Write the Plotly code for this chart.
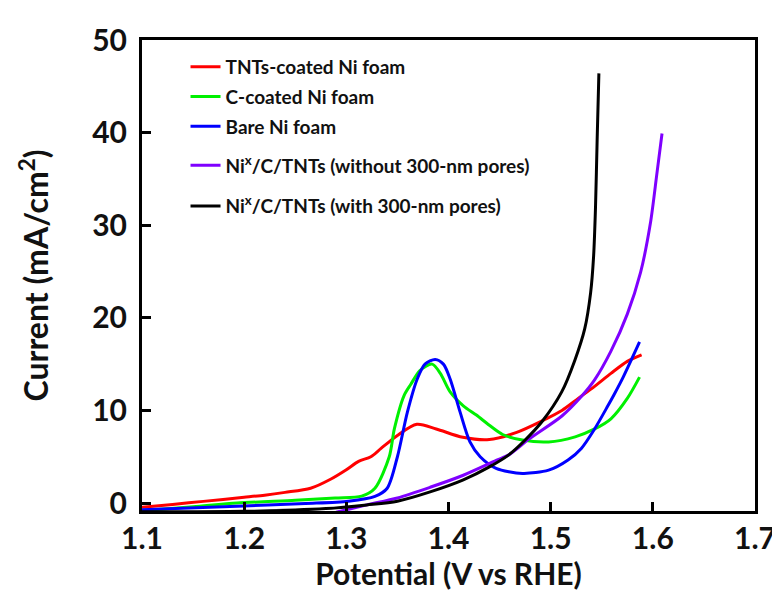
import plotly.graph_objects as go

# ---- data ----
red_x = [1.100, 1.130, 1.160, 1.200, 1.220, 1.240, 1.265, 1.285, 1.300, 1.312, 1.324, 1.334, 1.350, 1.369, 1.388, 1.414, 1.440, 1.466, 1.492, 1.511, 1.527, 1.543, 1.559, 1.575, 1.589]
red_y = [-0.45, -0.15, 0.18, 0.62, 0.85, 1.15, 1.6, 2.6, 3.6, 4.5, 5.0, 5.9, 7.3, 8.5, 8.0, 7.1, 6.85, 7.6, 8.9, 10.0, 11.3, 12.6, 14.0, 15.3, 16.0]

green_x = [1.100, 1.150, 1.193, 1.250, 1.289, 1.315, 1.328, 1.342, 1.347, 1.3565, 1.363, 1.372, 1.384, 1.392, 1.4016, 1.4145, 1.4273, 1.440, 1.453, 1.4723, 1.498, 1.524, 1.543, 1.559, 1.575, 1.587]
green_y = [-0.82, -0.4, 0.0, 0.3, 0.55, 0.75, 1.6, 5.0, 8.0, 11.6, 12.8, 14.3, 15.0, 14.0, 12.0, 10.5, 9.5, 8.4, 7.4, 6.8, 6.6, 7.15, 8.0, 9.1, 11.3, 13.6]

blue_x = [1.100, 1.193, 1.260, 1.302, 1.328, 1.340, 1.350, 1.3597, 1.3694, 1.377, 1.387, 1.395, 1.4016, 1.4113, 1.421, 1.431, 1.4466, 1.4723, 1.498, 1.517, 1.530, 1.543, 1.556, 1.562, 1.571, 1.587]
blue_y = [-0.72, -0.35, -0.05, 0.2, 0.72, 1.6, 5.0, 9.8, 13.4, 15.0, 15.5, 15.0, 13.4, 9.84, 6.6, 5.0, 3.75, 3.2, 3.55, 4.65, 5.9, 8.0, 10.5, 11.7, 13.6, 17.4]

purple_x = [1.290, 1.320, 1.350, 1.382, 1.4145, 1.4466, 1.459, 1.4787, 1.511, 1.530, 1.543, 1.559, 1.575, 1.588, 1.5976, 1.604, 1.609]
purple_y = [-1.0, -0.2, 0.55, 1.7, 3.0, 4.6, 5.2, 6.9, 9.4, 11.5, 13.3, 16.4, 20.4, 24.9, 30.2, 35.6, 39.9]

black_x = [1.100, 1.200, 1.280, 1.320, 1.350, 1.382, 1.4145, 1.440, 1.459, 1.475, 1.4916, 1.5108, 1.5236, 1.5333, 1.5391, 1.542, 1.5439, 1.5455, 1.5472]
black_y = [-0.95, -0.9, -0.6, -0.2, 0.2, 1.2, 2.5, 3.9, 5.2, 6.8, 8.8, 12.0, 15.4, 18.8, 22.7, 26.6, 32.0, 39.2, 46.4]

names = ["TNTs-coated Ni foam", "C-coated Ni foam", "Bare Ni foam",
         "Ni<sup>x</sup>/C/TNTs (without 300-nm pores)",
         "Ni<sup>x</sup>/C/TNTs (with 300-nm pores)"]
colors = ["#FF0000", "#00F000", "#0000FF", "#7F00FF", "#000000"]
legend_ids = ["legend", "legend", "legend", "legend2", "legend2"]
xs = [red_x, green_x, blue_x, purple_x, black_x]
ys = [red_y, green_y, blue_y, purple_y, black_y]

x_ticks = [1.1, 1.2, 1.3, 1.4, 1.5, 1.6, 1.7]
y_ticks = [0, 10, 20, 30, 40, 50]

FONT = "Lato"
TXT = "#111111"

fig = go.Figure()
for i, (x, y, n, c, lg) in enumerate(zip(xs, ys, names, colors, legend_ids)):
    fig.add_trace(go.Scatter(
        x=x, y=y, name=n, mode="lines",
        line=dict(color=c, width=3, shape="spline", smoothing=0.8),
        legendgroup=str(i), legend=lg,
    ))

legend_font = dict(family=FONT, size=19, color=TXT, weight="bold")

fig.update_layout(
    width=780, height=590,
    margin=dict(l=134, r=24, t=29, b=87),
    paper_bgcolor="white", plot_bgcolor="white",
    font=dict(family=FONT, color="black"),
    showlegend=True,
    legend=dict(
        x=0.071, y=0.983, xanchor="left", yanchor="top",
        bgcolor="rgba(0,0,0,0)", borderwidth=0,
        font=legend_font, tracegroupgap=2, itemwidth=30,
    ),
    legend2=dict(
        x=0.071, y=0.774, xanchor="left", yanchor="top",
        bgcolor="rgba(0,0,0,0)", borderwidth=0,
        font=legend_font, tracegroupgap=13, itemwidth=30,
    ),
    xaxis=dict(
        range=[1.1, 1.7], tickvals=x_ticks, ticktext=[f"{v:.1f}" for v in x_ticks],
        showgrid=False, zeroline=False,
        showline=True, linewidth=3, linecolor="black", mirror=True,
        ticks="inside", ticklen=9, tickwidth=2.5, tickcolor="black",
        tickfont=dict(family=FONT, size=30, color=TXT, weight="bold"),
        ticklabelstandoff=-1,
        title=dict(text="Potential (V vs RHE)",
                   font=dict(family=FONT, size=30, color=TXT, weight="bold"),
                   standoff=1),
    ),
    yaxis=dict(
        range=[-0.86, 50], tickvals=y_ticks,
        showgrid=False, zeroline=False,
        showline=True, linewidth=3, linecolor="black", mirror=True,
        ticks="inside", ticklen=9, tickwidth=2.5, tickcolor="black",
        tickfont=dict(family=FONT, size=30, color=TXT, weight="bold"),
        ticklabelstandoff=6,
        title=dict(text="Current (mA/cm<sup>2</sup>)",
                   font=dict(family=FONT, size=32, color=TXT, weight="bold"),
                   standoff=34),
    ),
)

fig.write_html("out.html")
